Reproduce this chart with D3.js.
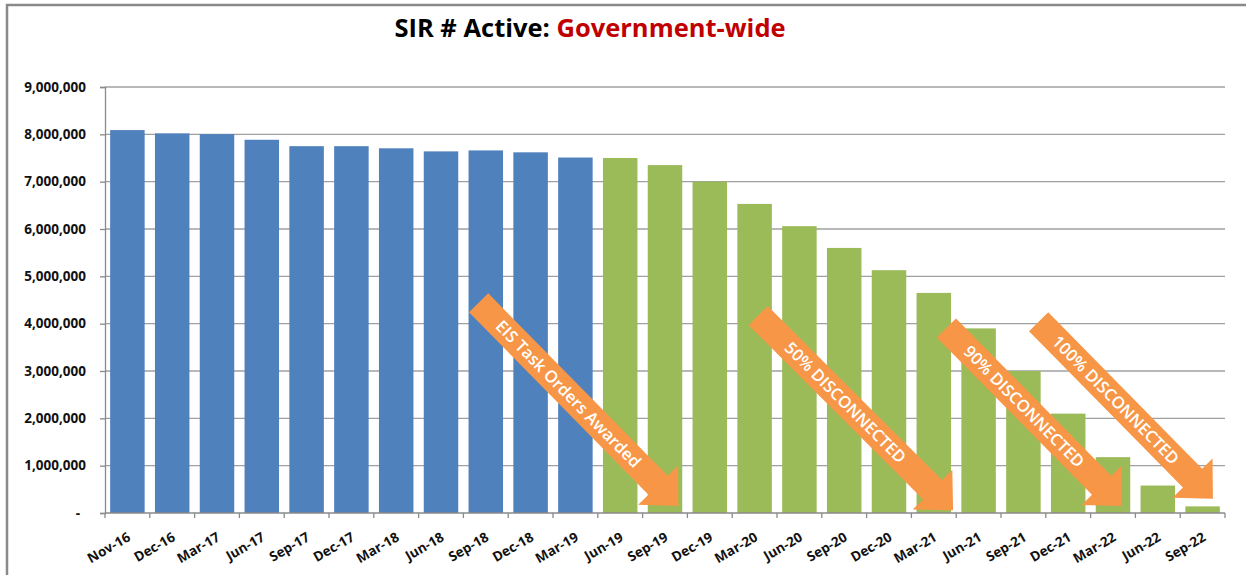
<!DOCTYPE html>
<html>
<head>
<meta charset="utf-8">
<script src="https://cdn.jsdelivr.net/npm/d3@7"></script>
<style>
  body { margin: 0; background: #fff; }
  text { font-family: "Open Sans", "Noto Sans", sans-serif; }
</style>
</head>
<body>
<div id="chart-area"></div>
<script>
// actual counts (blue) and the planned draw-down (green)
var actualMonths = ["Nov-16", "Dec-16", "Mar-17", "Jun-17", "Sep-17", "Dec-17", "Mar-18", "Jun-18", "Sep-18", "Dec-18", "Mar-19"];
var actualValues = [8090000, 8020000, 8005000, 7885000, 7750000, 7750000, 7705000, 7640000, 7660000, 7620000, 7510000];

var plannedMonths = ["Jun-19", "Sep-19", "Dec-19", "Mar-20", "Jun-20", "Sep-20", "Dec-20", "Mar-21", "Jun-21", "Sep-21", "Dec-21", "Mar-22", "Jun-22", "Sep-22"];
var plannedValues = [7500000, 7350000, 7000000, 6530000, 6060000, 5600000, 5130000, 4650000, 3900000, 3000000, 2100000, 1180000, 580000, 140000];

var yTicks = [0, 1000000, 2000000, 3000000, 4000000, 5000000, 6000000, 7000000, 8000000, 9000000];

// milestone arrows, start/end given as month (+ share of the band) and value
var milestones = [
  { label: "EIS Task Orders Awarded", fromMonth: "Sep-18", fromAt: 0.34, fromValue: 4440000, toMonth: "Sep-19", toAt: 0.80, toValue: 150000 },
  { label: "50% DISCONNECTED",        fromMonth: "Mar-20", fromAt: 0.58, fromValue: 4170000, toMonth: "Mar-21", toAt: 0.93, toValue: 60000 },
  { label: "90% DISCONNECTED",        fromMonth: "Mar-21", fromAt: 0.78, fromValue: 3910000, toMonth: "Mar-22", toAt: 0.70, toValue: 150000 },
  { label: "100% DISCONNECTED",       fromMonth: "Sep-21", fromAt: 0.84, fromValue: 4040000, toMonth: "Sep-22", toAt: 0.73, toValue: 300000 }
];

var data = actualMonths.map(function(m, i) { return { month: m, value: actualValues[i], kind: "actual" }; })
  .concat(plannedMonths.map(function(m, i) { return { month: m, value: plannedValues[i], kind: "planned" }; }));

var svgWidth = 1246,
    svgHeight = 575,
    margin = { top: 87, right: 21, bottom: 62, left: 105 },
    width = svgWidth - margin.left - margin.right,
    height = svgHeight - margin.top - margin.bottom;

var svg = d3.select("#chart-area")
            .append("svg")
            .attr("width", svgWidth)
            .attr("height", svgHeight);

// outer frame
svg.append("path")
   .attr("d", "M7," + svgHeight + "V5H" + svgWidth)
   .attr("fill", "none")
   .attr("stroke", "#8a8a8a")
   .attr("stroke-width", 2.5);

// title
var title = svg.append("text")
               .attr("x", 590)
               .attr("y", 37)
               .attr("text-anchor", "middle")
               .attr("font-size", 25.5)
               .attr("font-weight", "bold");
title.append("tspan").attr("fill", "#000").text("SIR # Active: ");
title.append("tspan").attr("fill", "#c00000").text("Government-wide");

var g = svg.append("g")
           .attr("transform", "translate(" + margin.left + "," + margin.top + ")");

var x = d3.scaleBand()
          .domain(data.map(function(d) { return d.month; }))
          .range([0, width])
          .paddingInner(0.23)
          .paddingOuter(0.115);

var y = d3.scaleLinear().domain([0, 9000000]).range([height, 0]);

// gridlines
g.append("g")
 .selectAll("line")
 .data(yTicks.slice(1))
 .enter().append("line")
   .attr("x1", 0)
   .attr("x2", width)
   .attr("y1", function(d) { return y(d); })
   .attr("y2", function(d) { return y(d); })
   .attr("stroke", "#a0a0a0")
   .attr("stroke-width", 1.3);

// bars
g.selectAll("rect.bar")
 .data(data)
 .enter().append("rect")
   .attr("class", "bar")
   .attr("x", function(d) { return x(d.month); })
   .attr("y", function(d) { return y(d.value); })
   .attr("width", x.bandwidth())
   .attr("height", function(d) { return height - y(d.value); })
   .attr("fill", function(d) { return d.kind === "actual" ? "#4f81bd" : "#9bbb59"; });

// y axis
var yAxisGroup = g.append("g")
                  .call(d3.axisLeft(y)
                          .tickValues(yTicks)
                          .tickSize(5)
                          .tickPadding(14)
                          .tickFormat(function(d) { return d === 0 ? "-" : d3.format(",")(d); }));
yAxisGroup.select(".domain").attr("stroke", "#8a8a8a").attr("stroke-width", 1.3);
yAxisGroup.selectAll(".tick line").attr("stroke", "#8a8a8a").attr("stroke-width", 1.3);
yAxisGroup.selectAll(".tick text")
          .attr("font-size", 13.5)
          .attr("font-weight", "bold")
          .attr("fill", "#111")
          .attr("dx", function(d) { return d === 0 ? -6 : 0; })
          .style("font-family", "\"Open Sans\", sans-serif");

// x axis: ticks sit between the bars, labels slanted
var step = x.step(),
    gap = step - x.bandwidth();
var bounds = data.map(function(d) { return x(d.month) - gap / 2; });
bounds.push(x(data[data.length - 1].month) + x.bandwidth() + gap / 2);

var xAxisGroup = g.append("g").attr("transform", "translate(0," + height + ")");
xAxisGroup.append("line")
          .attr("x1", 0).attr("x2", width)
          .attr("stroke", "#8a8a8a").attr("stroke-width", 1.3);
xAxisGroup.selectAll("line.tick")
          .data(bounds)
          .enter().append("line")
            .attr("class", "tick")
            .attr("x1", function(d) { return d; })
            .attr("x2", function(d) { return d; })
            .attr("y1", 0).attr("y2", 5)
            .attr("stroke", "#8a8a8a").attr("stroke-width", 1.3);
xAxisGroup.selectAll("text")
          .data(data)
          .enter().append("text")
            .attr("transform", function(d) {
              return "translate(" + (x(d.month) + x.bandwidth() / 2 + 4) + ",27) rotate(-30)";
            })
            .attr("text-anchor", "end")
            .attr("font-size", 13.5)
            .attr("font-weight", "bold")
            .attr("fill", "#111")
            .text(function(d) { return d.month; });

// milestone arrows
var bodyHalf = 13.5, headHalf = 28, headLen = 29;

function pointAt(month, at, value) {
  return [x(month) - gap / 2 + at * step, y(value)];
}

var arrows = g.selectAll("g.milestone")
              .data(milestones)
              .enter().append("g")
                .attr("class", "milestone");

arrows.each(function(d) {
  var s = pointAt(d.fromMonth, d.fromAt, d.fromValue),
      t = pointAt(d.toMonth, d.toAt, d.toValue),
      dx = t[0] - s[0], dy = t[1] - s[1],
      len = Math.sqrt(dx * dx + dy * dy),
      ux = dx / len, uy = dy / len,
      nx = -uy, ny = ux,
      b = [t[0] - ux * headLen, t[1] - uy * headLen];

  var pts = [
    [s[0] + nx * bodyHalf, s[1] + ny * bodyHalf],
    [b[0] + nx * bodyHalf, b[1] + ny * bodyHalf],
    [b[0] + nx * headHalf, b[1] + ny * headHalf],
    t,
    [b[0] - nx * headHalf, b[1] - ny * headHalf],
    [b[0] - nx * bodyHalf, b[1] - ny * bodyHalf],
    [s[0] - nx * bodyHalf, s[1] - ny * bodyHalf]
  ];

  var sel = d3.select(this);
  sel.append("polygon")
     .attr("points", pts.map(function(p) { return p.join(","); }).join(" "))
     .attr("fill", "#f79646");

  var angle = Math.atan2(uy, ux) * 180 / Math.PI;
  sel.append("text")
     .attr("transform", "translate(" + ((s[0] + b[0]) / 2) + "," + ((s[1] + b[1]) / 2) + ") rotate(" + angle + ")")
     .attr("text-anchor", "middle")
     .attr("dy", "0.35em")
     .attr("font-size", 16.5)
     .attr("font-weight", 600)
     .attr("fill", "#fff")
     .text(d.label);
});
</script>
</body>
</html>
